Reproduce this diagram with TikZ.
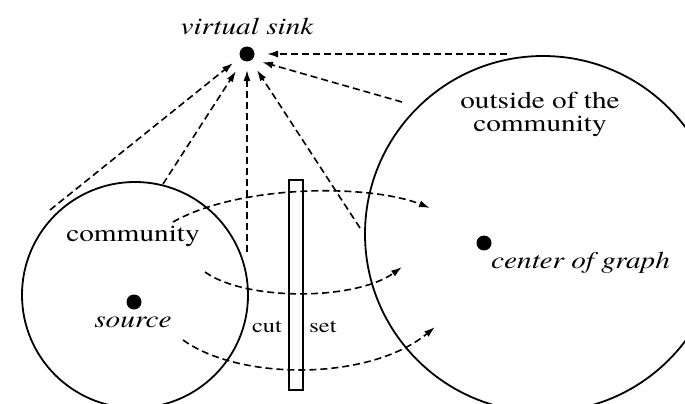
\documentclass[tikz,border=0pt]{standalone}
\usepackage{fontspec}
\usepackage{graphicx}
\setmainfont{texgyretermes}[Extension=.otf,UprightFont=*-regular,ItalicFont=*-italic,BoldFont=*-bold,BoldItalicFont=*-bolditalic]
\newcommand{\widetxt}[1]{\scalebox{1.22}[1]{#1}}
\usetikzlibrary{arrows.meta}
\begin{document}
\begin{tikzpicture}[x=1pt,y=-1pt,
  region/.style={circle,draw,line width=1.8pt,inner sep=0pt},
  dot/.style={circle,fill=black,inner sep=0pt,minimum size=15pt},
  lbl/.style={font=\rmfamily\fontsize{24}{26}\selectfont,inner sep=0pt},
  ilbl/.style={font=\rmfamily\fontsize{24}{26}\selectfont\itshape,inner sep=0pt},
  small/.style={font=\rmfamily\fontsize{20}{22}\selectfont,inner sep=0pt},
  flow/.style={dash pattern=on 7pt off 4pt,line width=1.6pt,-{Latex[length=11pt,width=7pt]}}]
\useasboundingbox[fill=white] (0,0) rectangle (685,404);
% regions
\node[region,minimum size=226pt] (comm) at (135,295) {};
\node[region,minimum size=356pt] (out) at (543,234) {};
\node[draw,line width=1.5pt,minimum width=14pt,minimum height=210pt,inner sep=0pt] (cutset) at (296,285) {};
% dots
\node[dot] (sink) at (247,54) {};
\node[dot] (src) at (134,302) {};
\node[dot] (ctr) at (484,243) {};
% labels
\node[ilbl] (lsink) at (247,27) {\widetxt{virtual sink}};
\node[lbl] (lcomm) at (133,236) {\widetxt{community}};
\node[ilbl] (lsrc) at (133,322) {\widetxt{source}};
\node[lbl] (lout) at (540,115) {\widetxt{\begin{tabular}{@{}c@{}}outside of the\\[-3pt]community\end{tabular}}};
\node[ilbl,anchor=west] (lctr) at (491,263) {\widetxt{center of graph}};
\node[small] (lcut) at (267,327) {\widetxt{cut}};
\node[small] (lset) at (323,327) {\widetxt{set}};
% start points of arrows to the sink
\coordinate (s1) at (50,210);
\coordinate (s2) at (163,184);
\coordinate (s3) at (247,252);
\coordinate (s4) at (360,228);
\coordinate (s5) at (402,102);
\coordinate (s6) at (507,54);
\coordinate (e1) at (233,63);
\coordinate (e2) at (236,71);
\coordinate (e3) at (247,70);
\coordinate (e4) at (257,70);
\coordinate (e5) at (262,62);
\coordinate (e6) at (267,54);
\draw[flow] (s1) -- (e1);
\draw[flow] (s2) -- (e2);
\draw[flow] (s3) -- (e3);
\draw[flow] (s4) -- (e4);
\draw[flow] (s5) -- (e5);
\draw[flow] (s6) -- (e6);
% curved flows across the cut
\coordinate (a1) at (173,222);
\coordinate (a2) at (430,208);
\coordinate (b1) at (205,272);
\coordinate (b2) at (402,267);
\coordinate (c1) at (183,340);
\coordinate (c2) at (435,327);
\draw[flow] (a1) .. controls (240,184) and (370,184) .. (a2);
\draw[flow] (b1) .. controls (245,301) and (355,301) .. (b2);
\draw[flow] (c1) .. controls (240,381) and (370,381) .. (c2);
\end{tikzpicture}
\end{document}
